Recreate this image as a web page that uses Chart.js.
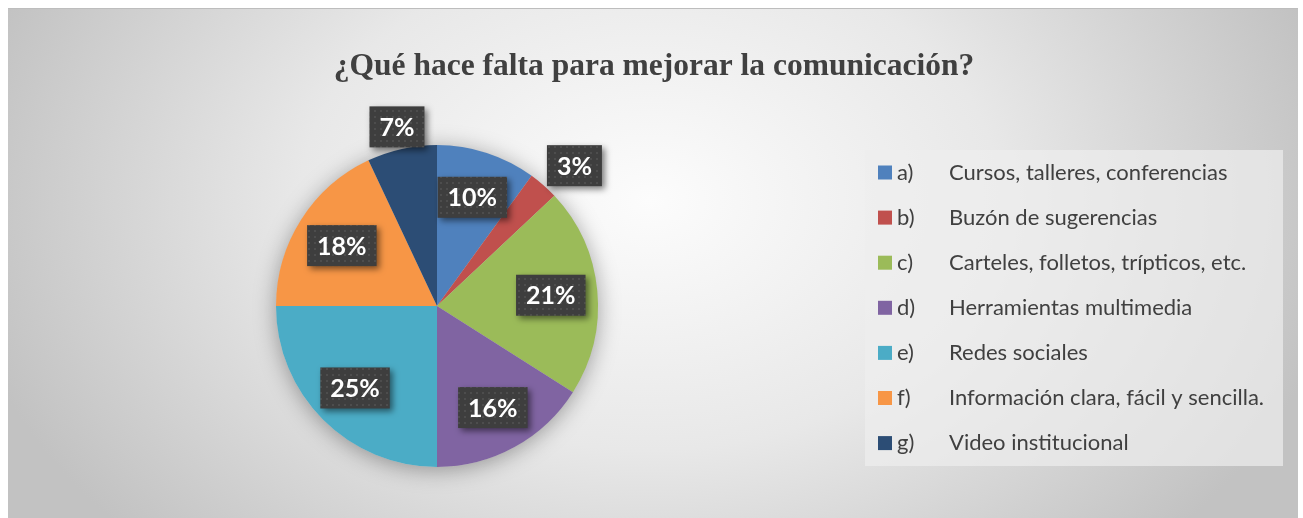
<!DOCTYPE html>
<html>
<head>
<meta charset="utf-8">
<script src="https://cdn.jsdelivr.net/npm/chart.js@4"></script>
<style>
  html, body { margin: 0; padding: 0; background: #ffffff; }
  #wrap { position: relative; width: 1303px; height: 518px; }
</style>
</head>
<body>
<div id="wrap"><canvas id="commChart" width="1303" height="518"></canvas></div>
<script>
var chartTitle = "¿Qué hace falta para mejorar la comunicación?";

var optionLetters = ["a)", "b)", "c)", "d)", "e)", "f)", "g)"];
var optionNames = [
  "Cursos, talleres, conferencias",
  "Buzón de sugerencias",
  "Carteles, folletos, trípticos, etc.",
  "Herramientas multimedia",
  "Redes sociales",
  "Información clara, fácil y sencilla.",
  "Video institucional"
];
var percentages = [10, 3, 21, 16, 25, 18, 7];

var sliceColors = ["#4f81bd", "#c0504d", "#9bbb59", "#8064a2", "#4bacc6", "#f79646", "#2c4d75"];
// where each label box sits: fraction of the radius, and a small angle nudge (degrees)
var labelDistance = [0.71, 1.22, 0.71, 0.72, 0.72, 0.7, 1.14];
var labelNudge = [0, 3, 0, 0, 0, 0, 0];

var ctx = document.getElementById("commChart");

// dotted texture for the label boxes
var dots = document.createElement("canvas");
dots.width = 6; dots.height = 6;
var dctx = dots.getContext("2d");
dctx.fillStyle = "#3e3e3e";
dctx.fillRect(0, 0, 6, 6);
dctx.fillStyle = "rgba(255,255,255,0.08)";
dctx.fillRect(2, 2, 2, 2);

var backgroundPlugin = {
  id: "background",
  beforeDraw: function(chart)
  {
    var c = chart.ctx;
    c.save();
    c.fillStyle = "#ffffff";
    c.fillRect(0, 0, chart.width, chart.height);
    c.beginPath();
    c.rect(8, 8, 1290, 510);
    c.clip();
    c.translate(650, 200);
    c.scale(1, 500 / 700);
    var g = c.createRadialGradient(0, 0, 0, 0, 0, 700);
    g.addColorStop(0, "#fcfcfc");
    g.addColorStop(0.5, "#e8e8e8");
    g.addColorStop(1, "#c2c2c2");
    c.fillStyle = g;
    c.fillRect(-700, -600, 1400, 1400);
    c.restore();

    // top edge line
    c.fillStyle = "#bdbdbd";
    c.fillRect(8, 8, 1290, 1);

    // title
    c.save();
    c.fillStyle = "#404040";
    c.font = "bold 31.5px 'Liberation Serif', 'Times New Roman', serif";
    c.textAlign = "center";
    c.textBaseline = "alphabetic";
    c.fillText(chartTitle, 654, 75);
    c.restore();

    // legend
    c.save();
    c.fillStyle = "rgba(238,238,238,0.7)";
    c.fillRect(865, 150, 418, 316);
    c.font = "22px Lato, 'Open Sans', sans-serif";
    c.textBaseline = "middle";
    for (var i = 0; i < optionNames.length; i++) {
      var y = 172.5 + i * 45.1;
      c.fillStyle = sliceColors[i];
      c.fillRect(878, y - 7, 14, 14);
      c.fillStyle = "#404040";
      c.fillText(optionLetters[i], 897, y);
      c.fillText(optionNames[i], 949, y);
    }
    c.restore();
  },
  beforeDatasetsDraw: function(chart)
  {
    var arc = chart.getDatasetMeta(0).data[0];
    if (!arc) return;
    var c = chart.ctx;
    c.save();
    c.shadowColor = "rgba(0,0,0,0.35)";
    c.shadowBlur = 22;
    c.shadowOffsetY = 3;
    c.fillStyle = "#cccccc";
    c.beginPath();
    c.arc(arc.x, arc.y, arc.outerRadius, 0, Math.PI * 2);
    c.fill();
    c.restore();
  },
  afterDatasetsDraw: function(chart)
  {
    var c = chart.ctx;
    var meta = chart.getDatasetMeta(0);
    var pattern = c.createPattern(dots, "repeat");
    c.save();
    c.font = "bold 25px Lato, 'Open Sans', sans-serif";
    c.textAlign = "center";
    c.textBaseline = "middle";
    meta.data.forEach(function(el, i)
    {
      var mid = (el.startAngle + el.endAngle) / 2 + labelNudge[i] * Math.PI / 180;
      var r = el.outerRadius * labelDistance[i];
      var x = el.x + Math.cos(mid) * r;
      var y = el.y + Math.sin(mid) * r;
      var txt = percentages[i] + "%";
      var w = c.measureText(txt).width + 20;
      var h = 41;
      c.save();
      c.shadowColor = "rgba(0,0,0,0.5)";
      c.shadowBlur = 6;
      c.shadowOffsetX = 3;
      c.shadowOffsetY = 3;
      c.fillStyle = pattern;
      c.fillRect(x - w / 2, y - h / 2, w, h);
      c.restore();
      c.fillStyle = "#ffffff";
      c.fillText(txt, x, y + 1);
    });
    c.restore();
  }
};

var commChart = new Chart(ctx,
{
  type: "pie",
  data: {
    labels: optionNames,
    datasets: [{
      data: percentages,
      backgroundColor: sliceColors,
      borderWidth: 0,
      hoverOffset: 0
    }]
  },
  options: {
    responsive: false,
    animation: false,
    events: [],
    layout: {
      padding: { left: 276, right: 705, top: 145, bottom: 51 }
    },
    plugins: {
      legend: { display: false },
      title: { display: false },
      tooltip: { enabled: false }
    }
  },
  plugins: [backgroundPlugin]
});
</script>
</body>
</html>
